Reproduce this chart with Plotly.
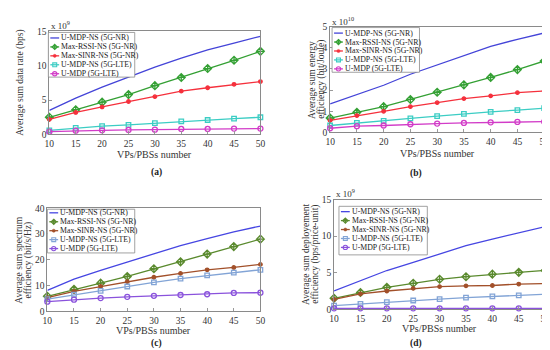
import plotly.graph_objects as go

# ---------------- data ----------------
vps_pbss = [10, 15, 20, 25, 30, 35, 40, 45, 50]
series_names = ["U-MDP-NS (5G-NR)", "Max-RSSI-NS (5G-NR)", "Max-SINR-NS (5G-NR)",
                "U-MDP-NS (5G-LTE)", "U-MDP (5G-LTE)"]

# (a) Average sum data rate (bps), x 1e9
rate_umdp_ns_nr = [3.5, 5.3, 6.9, 8.4, 9.8, 11.1, 12.3, 13.3, 14.3]
rate_maxrssi_nr = [2.5, 3.6, 4.7, 5.8, 7.1, 8.3, 9.6, 10.8, 12.1]
rate_maxsinr_nr = [2.2, 3.2, 4.0, 4.8, 5.5, 6.3, 6.8, 7.3, 7.7]
rate_umdp_ns_lte = [0.6, 0.95, 1.2, 1.4, 1.65, 1.9, 2.1, 2.3, 2.5]
rate_umdp_lte = [0.4, 0.55, 0.6, 0.65, 0.7, 0.8, 0.8, 0.85, 0.85]

# (b) Average sum energy efficiency (bit/Joule), x 1e10
ee_umdp_ns_nr = [1.35, 1.8, 2.23, 2.75, 3.2, 3.65, 4.07, 4.4, 4.7]
ee_maxrssi_nr = [0.68, 0.95, 1.22, 1.56, 1.9, 2.25, 2.6, 2.97, 3.37]
ee_maxsinr_nr = [0.57, 0.8, 1.0, 1.22, 1.41, 1.6, 1.73, 1.88, 1.96]
ee_umdp_ns_lte = [0.33, 0.45, 0.55, 0.67, 0.77, 0.88, 0.97, 1.06, 1.15]
ee_umdp_lte = [0.2, 0.3, 0.33, 0.39, 0.42, 0.45, 0.48, 0.5, 0.51]

# (c) Average sum spectrum efficiency (bit/s/Hz)
se_umdp_ns_nr = [8.1, 12.5, 15.9, 19.2, 22.5, 25.5, 28.2, 30.8, 33.1]
se_maxrssi_nr = [5.8, 8.5, 10.9, 13.5, 16.5, 19.2, 22.2, 25.1, 28.0]
se_maxsinr_nr = [5.3, 7.7, 9.6, 11.5, 13.2, 14.7, 16.1, 17.0, 18.2]
se_umdp_ns_lte = [4.7, 6.4, 7.9, 9.6, 11.2, 12.7, 13.9, 15.0, 16.1]
se_umdp_lte = [3.7, 4.5, 5.1, 5.6, 6.0, 6.3, 6.6, 7.1, 7.2]

# (d) Average sum deployment efficiency (bps/price-unit), x 1e9
de_umdp_ns_nr = [2.5, 3.9, 5.3, 6.4, 7.6, 8.7, 9.6, 10.5, 11.3]
de_maxrssi_nr = [1.5, 2.3, 3.0, 3.55, 4.1, 4.45, 4.8, 5.05, 5.3]
de_maxsinr_nr = [1.35, 2.1, 2.5, 2.85, 3.1, 3.2, 3.25, 3.45, 3.5]
de_umdp_ns_lte = [0.5, 0.75, 0.97, 1.2, 1.4, 1.6, 1.75, 1.9, 2.05]
de_umdp_lte = [0.13, 0.13, 0.13, 0.13, 0.13, 0.13, 0.13, 0.13, 0.13]

x_title = "VPs/PBSs number"

# ---------------- styling / layout ----------------
W, H = 550, 350
FONT = "Liberation Serif, Times New Roman, serif"
colors_ab = ["#4444d8", "#34a034", "#f5303c", "#3ccdc4", "#d23cc8"]
colors_cd = ["#4646e2", "#5a8a2e", "#a2502a", "#82a4d6", "#8a52dc"]
symbols = [None, "diamond-cross-open", "circle", "square-open", "circle-open"]
msizes = [0, 6, 3.5, 4.5, 5]


def px(x):
    return x / W


def py(y):
    return 1 - y / H


panels = [
    dict(series=[rate_umdp_ns_nr, rate_maxrssi_nr, rate_maxsinr_nr, rate_umdp_ns_lte, rate_umdp_lte],
         box=(37, 19, 252, 125), yr=[0, 15], dtick=5, exp="x 10<sup>9</sup>",
         ytitle=["Average sum data rate (bps)"], ytx=[8], xty=146, cap="(a)", capxy=(146, 164),
         leg=(36, 20, 124, 66), row0=25.7, colors=colors_ab),
    dict(series=[ee_umdp_ns_nr, ee_maxrssi_nr, ee_maxsinr_nr, ee_umdp_ns_lte, ee_umdp_lte],
         box=(323, 14, 541, 123), yr=[0, 5], dtick=1, exp="x 10<sup>10</sup>",
         ytitle=["Average sum energy", "efficiency (bit/Joule)"], ytx=[304, 314], xty=145,
         cap="(b)", capxy=(410, 165), leg=(325, 15, 414, 61), row0=20.7, colors=colors_ab),
    dict(series=[se_umdp_ns_nr, se_maxrssi_nr, se_maxsinr_nr, se_umdp_ns_lte, se_umdp_lte],
         box=(35, 201, 252, 307), yr=[0, 40], dtick=10, exp=None,
         ytitle=["Average sum spectrum", "efficiency (bit/s/Hz)"], ytx=[6, 16], xty=327,
         cap="(c)", capxy=(146, 340), leg=(35, 202, 124, 247), row0=205.7, colors=colors_cd),
    dict(series=[de_umdp_ns_nr, de_maxrssi_nr, de_maxsinr_nr, de_umdp_ns_lte, de_umdp_lte],
         box=(327, 192, 542, 305), yr=[0, 15], dtick=5, exp="x 10<sup>9</sup>",
         ytitle=["Average sum deployement", "efficiency (bps/price-unit)"], ytx=[299, 308], xty=325,
         cap="(d)", capxy=(410, 340), leg=(332, 199, 422, 249), row0=204.5, colors=colors_cd),
]

fig = go.Figure()
shapes = []
annotations = []
ROWSTEP = 9.2

for i, p in enumerate(panels):
    n = "" if i == 0 else str(i + 1)
    xa, ya = "x" + n, "y" + n
    x0, y0, x1, y1 = p["box"]
    for k, (name, vals) in enumerate(zip(series_names, p["series"])):
        col = p["colors"][k]
        mode = "lines" if symbols[k] is None else "lines+markers"
        marker = None
        if symbols[k] is not None:
            marker = dict(symbol=symbols[k], size=msizes[k], color=col,
                          line=dict(color=col, width=1.3))
        fig.add_trace(go.Scatter(x=vps_pbss, y=vals, name=name, mode=mode,
                                 line=dict(color=col, width=1.3), marker=marker,
                                 xaxis=xa, yaxis=ya, showlegend=False, cliponaxis=False))
    axis_common = dict(showline=True, linecolor="#8a8a8a", linewidth=1, mirror=True,
                       ticks="inside", ticklen=3, tickcolor="#9a9a9a", showgrid=False,
                       zeroline=False, tickfont=dict(family=FONT, size=9.5, color="#333"))
    fig.layout["xaxis" + n] = dict(domain=[px(x0), px(x1)], anchor=ya, range=[10, 50],
                                   tickvals=vps_pbss, **axis_common)
    fig.layout["yaxis" + n] = dict(domain=[py(y1), py(y0)], anchor=xa, range=p["yr"],
                                   dtick=p["dtick"], tick0=0, **axis_common)

    # axis titles
    annotations.append(dict(x=px((x0 + x1) / 2), y=py(p["xty"]), xref="paper", yref="paper",
                            text=x_title, showarrow=False, xanchor="center", yanchor="middle",
                            borderpad=0, font=dict(family=FONT, size=10, color="#333")))
    for t, tx in zip(p["ytitle"], p["ytx"]):
        annotations.append(dict(x=px(tx), y=py((y0 + y1) / 2), xref="paper", yref="paper",
                                text=t, showarrow=False, textangle=-90, xanchor="center",
                                yanchor="middle", borderpad=0,
                                font=dict(family=FONT, size=9.5, color="#333")))
    annotations.append(dict(x=px(p["capxy"][0]), y=py(p["capxy"][1]), xref="paper", yref="paper",
                            text="<b>" + p["cap"] + "</b>", showarrow=False, borderpad=0,
                            xanchor="center", yanchor="middle",
                            font=dict(family=FONT, size=9.5, color="#222")))
    if p["exp"]:
        annotations.append(dict(x=px(x0 + 1), y=py(y0 + 1), xref="paper", yref="paper",
                                text=p["exp"], showarrow=False, xanchor="left", yanchor="bottom",
                                borderpad=0, font=dict(family=FONT, size=9, color="#333")))

    # custom compact legend
    lx0, ly0, lx1, ly1 = p["leg"]
    shapes.append(dict(type="rect", xref="paper", yref="paper", x0=px(lx0), x1=px(lx1),
                       y0=py(ly1), y1=py(ly0), fillcolor="white",
                       line=dict(color="#8a8a8a", width=0.8), layer="above"))
    for k, name in enumerate(series_names):
        col = p["colors"][k]
        ry = p["row0"] + k * ROWSTEP
        sx0, sx1 = lx0 + 2, lx0 + 11
        cx = (sx0 + sx1) / 2
        shapes.append(dict(type="line", xref="paper", yref="paper", x0=px(sx0), x1=px(sx1),
                           y0=py(ry), y1=py(ry), line=dict(color=col, width=1.3)))
        sym = symbols[k]
        if sym == "diamond-cross-open":
            d = 2.6
            path = (f"M{px(cx)},{py(ry - d)} L{px(cx + d)},{py(ry)} L{px(cx)},{py(ry + d)} "
                    f"L{px(cx - d)},{py(ry)} Z M{px(cx)},{py(ry - d)} L{px(cx)},{py(ry + d)}")
            shapes.append(dict(type="path", xref="paper", yref="paper", path=path,
                               line=dict(color=col, width=1.2)))
        elif sym == "circle":
            d = 1.6
            shapes.append(dict(type="circle", xref="paper", yref="paper", x0=px(cx - d),
                               x1=px(cx + d), y0=py(ry + d), y1=py(ry - d), fillcolor=col,
                               line=dict(color=col, width=0.5)))
        elif sym == "square-open":
            d = 2
            shapes.append(dict(type="rect", xref="paper", yref="paper", x0=px(cx - d),
                               x1=px(cx + d), y0=py(ry + d), y1=py(ry - d),
                               line=dict(color=col, width=1.1)))
        elif sym == "circle-open":
            d = 2.2
            shapes.append(dict(type="circle", xref="paper", yref="paper", x0=px(cx - d),
                               x1=px(cx + d), y0=py(ry + d), y1=py(ry - d),
                               line=dict(color=col, width=1.1)))
        annotations.append(dict(x=px(sx1 + 1), y=py(ry), xref="paper", yref="paper", text=name,
                                showarrow=False, xanchor="left", yanchor="middle", borderpad=0,
                                font=dict(family=FONT, size=7.8, color="#222")))

fig.update_layout(width=W, height=H, margin=dict(l=0, r=0, t=0, b=0),
                  paper_bgcolor="white", plot_bgcolor="white", showlegend=False,
                  shapes=shapes, annotations=annotations)

fig.write_html("out.html")
